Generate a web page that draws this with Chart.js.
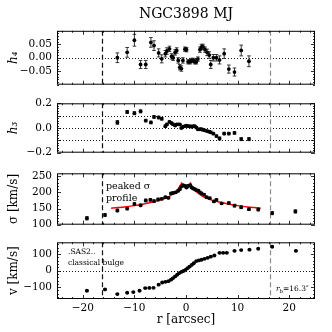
<!DOCTYPE html>
<html>
<head>
<meta charset="utf-8">
<script src="https://cdn.jsdelivr.net/npm/chart.js@4.4.0/dist/chart.umd.min.js"></script>
<style>
  html, body { margin: 0; padding: 0; background: #fff; }
  #wrap { position: relative; width: 332px; height: 332px; overflow: hidden; }
  canvas { position: absolute; left: 0; }
</style>
</head>
<body>
<div id="wrap">
  <canvas id="pH4" width="332" height="96" style="top:0px"></canvas>
  <canvas id="pH3" width="332" height="72" style="top:92px"></canvas>
  <canvas id="pSig" width="332" height="74" style="top:162px"></canvas>
  <canvas id="pVel" width="332" height="101" style="top:231px"></canvas>
</div>
<script>
// radii of the Gauss-Hermite bins (arcsec)
const radiusH = [-13.3, -11.4, -10.0, -8.8, -7.8, -6.8, -6.2, -5.3, -4.7, -4.0, -3.7, -3.2, -2.8, -2.5, -2.1, -1.8, -1.5, -1.2, -0.9, -0.6, -0.2, 0.1, 0.4, 0.8, 1.1, 1.4, 1.7, 2.0, 2.3, 2.7, 3.0, 3.3, 3.7, 4.1, 4.5, 4.8, 5.3, 5.9, 6.5, 7.4, 8.3, 9.4, 10.7, 12.2];
const h4Vals = [0.000, 0.020, 0.065, -0.025, -0.025, 0.057, 0.045, 0.018, -0.004, 0.015, 0.025, 0.033, 0.005, 0.000, 0.020, 0.027, -0.010, -0.035, -0.040, -0.010, 0.032, 0.030, -0.015, -0.015, -0.010, -0.010, -0.015, -0.015, -0.005, 0.030, 0.040, 0.040, 0.030, 0.020, 0.010, -0.025, 0.000, 0.000, -0.008, 0.015, -0.042, -0.053, 0.027, -0.013];
const h4Errs = [0.018, 0.018, 0.022, 0.015, 0.015, 0.018, 0.018, 0.015, 0.015, 0.012, 0.012, 0.010, 0.010, 0.010, 0.010, 0.010, 0.010, 0.010, 0.010, 0.010, 0.008, 0.008, 0.008, 0.008, 0.008, 0.008, 0.008, 0.008, 0.008, 0.010, 0.010, 0.010, 0.010, 0.012, 0.012, 0.015, 0.012, 0.012, 0.015, 0.018, 0.015, 0.015, 0.020, 0.020];
const h3Vals = [0.045, 0.130, 0.120, 0.135, 0.060, 0.045, 0.090, 0.085, 0.075, 0.015, 0.030, 0.050, 0.040, 0.030, 0.020, 0.030, 0.030, 0.030, 0.000, 0.010, 0.015, 0.020, 0.015, 0.015, 0.010, 0.015, 0.015, 0.005, -0.010, -0.010, -0.010, -0.015, -0.020, -0.025, -0.030, -0.035, -0.045, -0.065, -0.085, -0.045, -0.045, -0.040, -0.090, -0.090];
const h3Errs = [0.015, 0.012, 0.012, 0.012, 0.010, 0.010, 0.010, 0.010, 0.010, 0.010, 0.008, 0.008, 0.008, 0.008, 0.006, 0.006, 0.006, 0.006, 0.006, 0.006, 0.006, 0.006, 0.006, 0.006, 0.006, 0.006, 0.006, 0.006, 0.006, 0.006, 0.008, 0.008, 0.008, 0.008, 0.008, 0.010, 0.010, 0.010, 0.012, 0.010, 0.010, 0.010, 0.012, 0.012];

// velocity dispersion
const radiusSigma = [-19.2, -15.7, -13.3, -11.4, -10.0, -8.8, -7.8, -6.9, -6.2, -5.4, -4.7, -4.0, -3.4, -2.9, -2.5, -2.0, -1.5, -1.2, -0.9, -0.6, -0.2, 0.1, 0.4, 0.8, 1.1, 1.4, 1.7, 2.0, 2.4, 2.7, 3.0, 3.5, 4.0, 4.6, 5.4, 5.9, 6.9, 8.3, 9.4, 10.7, 12.2, 14.0, 16.7, 21.2];
const sigmaVals = [120, 130, 144, 150, 164, 160, 175, 177, 173, 178, 180, 185, 183, 197, 198, 200, 205, 210, 218, 222, 220, 215, 220, 222, 215, 212, 210, 207, 205, 200, 197, 193, 185, 182, 172, 177, 166, 167, 159, 154, 148, 147, 136, 141];
const sigmaErrs = [5, 4, 4, 4, 4, 4, 4, 4, 4, 4, 3, 3, 3, 3, 3, 3, 3, 3, 3, 3, 3, 3, 3, 3, 3, 3, 3, 3, 3, 3, 3, 3, 3, 3, 3, 3, 3, 4, 4, 4, 4, 4, 5, 5];
// peaked sigma fit (same on both sides)
const fitRadius = [0.8, 1.0, 1.5, 2, 3, 4, 5, 6, 8, 10, 12, 14.5];
const fitSigma = [231, 224, 211, 202, 190, 182, 176, 172, 165, 159, 155, 151];

// rotation velocity
const radiusVel = [-19.2, -15.7, -13.3, -11.4, -10.2, -9.0, -7.9, -7.1, -6.3, -5.3, -4.6, -4.0, -3.4, -2.9, -2.5, -2.1, -1.7, -1.3, -0.9, -0.5, -0.1, 0.3, 0.7, 1.1, 1.5, 2.0, 2.5, 3.0, 3.6, 4.2, 4.8, 5.5, 6.5, 7.2, 7.9, 9.4, 10.7, 12.3, 14.0, 16.7, 21.3];
const velVals = [-122, -114, -142, -134, -130, -122, -106, -105, -104, -85, -72, -68, -64, -55, -45, -35, -25, -15, -8, -2, 5, 15, 25, 35, 45, 58, 62, 66, 72, 78, 85, 92, 108, 108, 108, 120, 125, 127, 133, 145, 120];
const velErrs = [4, 4, 3, 3, 3, 3, 3, 3, 3, 3, 3, 3, 3, 3, 3, 3, 3, 3, 3, 3, 3, 3, 3, 3, 3, 3, 3, 3, 3, 3, 3, 3, 3, 3, 3, 3, 3, 3, 3, 4, 4];

const breakRadius = 16.3;
const rTicks = [-20, -10, 0, 10, 20];
const h4Ticks = [-0.05, 0, 0.05];
const h3Ticks = [-0.2, -0.1, 0, 0.1, 0.2];
const sigmaTicks = [100, 150, 200, 250];
const velTicks = [-100, 0, 100];

const SERIF = "'DejaVu Serif', 'Liberation Serif', serif";

const pts = (xs, ys) => xs.map((x, i) => ({ x: x, y: ys[i] }));
const minus = s => String(s).replace('-', '\u2212');

const panelDecor = {
    id: 'panelDecor',
    beforeDatasetsDraw(chart, args, opts) {
        const { ctx, chartArea: a, scales: { x, y } } = chart;
        ctx.save();
        ctx.beginPath();
        ctx.rect(a.left, a.top, a.right - a.left, a.bottom - a.top);
        ctx.clip();
        // dotted reference lines
        ctx.strokeStyle = '#000';
        ctx.lineWidth = 0.9;
        ctx.setLineDash([1, 2]);
        (opts.hLines || []).forEach(v => {
            const py = Math.round(y.getPixelForValue(v)) + 0.5;
            ctx.beginPath(); ctx.moveTo(a.left, py); ctx.lineTo(a.right, py); ctx.stroke();
        });
        // dashed bulge radius
        ctx.lineWidth = 1.2;
        ctx.setLineDash([5, 3]);
        [[-breakRadius, '#111'], [breakRadius, '#8a8a8a']].forEach(([v, c]) => {
            const px = Math.round(x.getPixelForValue(v)) + 0.5;
            ctx.strokeStyle = c;
            ctx.beginPath(); ctx.moveTo(px, a.top); ctx.lineTo(px, a.bottom); ctx.stroke();
        });
        ctx.setLineDash([]);
        // error bars
        ctx.strokeStyle = '#222';
        ctx.lineWidth = 0.9;
        chart.data.datasets.forEach((ds, i) => {
            if (!ds.errors) return;
            chart.getDatasetMeta(i).data.forEach((el, j) => {
                const v = ds.data[j].y, e = ds.errors[j];
                const y1 = y.getPixelForValue(v - e), y2 = y.getPixelForValue(v + e);
                const px = el.x;
                ctx.beginPath();
                ctx.moveTo(px, y1); ctx.lineTo(px, y2);
                ctx.moveTo(px - 1.8, y1); ctx.lineTo(px + 1.8, y1);
                ctx.moveTo(px - 1.8, y2); ctx.lineTo(px + 1.8, y2);
                ctx.stroke();
            });
        });
        ctx.restore();
    },
    afterDraw(chart, args, opts) {
        const { ctx, chartArea: a, scales: { x, y } } = chart;
        ctx.save();
        ctx.strokeStyle = '#000';
        ctx.lineWidth = 1;
        ctx.strokeRect(a.left + 0.5, a.top + 0.5, a.right - a.left - 1, a.bottom - a.top - 1);
        // inward ticks on all sides
        const tick = (px, horiz, len) => {
            ctx.beginPath();
            if (horiz) {
                ctx.moveTo(px, a.top); ctx.lineTo(px, a.top + len);
                ctx.moveTo(px, a.bottom); ctx.lineTo(px, a.bottom - len);
            } else {
                ctx.moveTo(a.left, px); ctx.lineTo(a.left + len, px);
                ctx.moveTo(a.right, px); ctx.lineTo(a.right - len, px);
            }
            ctx.stroke();
        };
        ctx.lineWidth = 0.8;
        for (let v = -24; v <= 24; v += 2) tick(Math.round(x.getPixelForValue(v)) + 0.5, true, v % 10 === 0 ? 4 : 2);
        const step = opts.minorY;
        for (let k = Math.ceil(y.min / step - 1e-6); k * step <= y.max + 1e-9; k++) {
            const v = k * step;
            const major = opts.yTicks.some(t => Math.abs(t - v) < step / 10);
            tick(Math.round(y.getPixelForValue(v)) + 0.5, false, major ? 4 : 2);
        }
        // annotations
        (opts.texts || []).forEach(t => {
            let cx = a.left + t.dx;
            const cy = a.top + t.dy;
            ctx.fillStyle = '#000';
            ctx.textBaseline = 'alphabetic';
            ctx.textAlign = 'left';
            t.parts.forEach(p => {
                const size = p.sub ? t.size * 0.7 : t.size;
                ctx.font = (p.italic ? 'italic ' : '') + size + 'px ' + SERIF;
                ctx.fillText(p.s, cx, cy + (p.sub ? 2 : 0));
                cx += ctx.measureText(p.s).width;
            });
        });
        ctx.restore();
    }
};

function makePanel(id, cfg) {
    const datasets = [{
        data: pts(cfg.xs, cfg.ys),
        errors: cfg.errs,
        backgroundColor: '#000',
        borderWidth: 0,
        pointRadius: 1.9,
        pointHoverRadius: 1.9
    }].concat(cfg.extra || []);
    return new Chart(document.getElementById(id), {
        type: 'scatter',
        data: { datasets: datasets },
        options: {
            responsive: false,
            animation: false,
            events: [],
            layout: { padding: { left: 0, right: 17, top: cfg.padTop, bottom: cfg.padBottom } },
            plugins: {
                legend: { display: false },
                tooltip: { enabled: false },
                title: cfg.title ? {
                    display: true,
                    text: cfg.title,
                    fullSize: false,
                    color: '#000',
                    font: { family: SERIF, size: 14, weight: 'normal' },
                    padding: { top: 6, bottom: 8 }
                } : { display: false },
                panelDecor: { hLines: cfg.hLines, minorY: cfg.minorY, yTicks: cfg.yTicks, texts: cfg.texts }
            },
            scales: {
                x: {
                    type: 'linear',
                    min: -25,
                    max: 25,
                    display: !!cfg.showX,
                    afterFit(s) { s.height = cfg.showX ? 33 : 0; },
                    afterBuildTicks(s) { s.ticks = rTicks.map(v => ({ value: v })); },
                    grid: { display: false, drawTicks: false },
                    border: { display: false },
                    ticks: { padding: 3, maxRotation: 0, color: '#000', font: { family: SERIF, size: 10.5 }, callback: v => minus(v) },
                    title: { display: true, text: 'r [arcsec]', color: '#000', font: { family: SERIF, size: 12 }, padding: { top: 0, bottom: 5 } }
                },
                y: {
                    min: cfg.yMin,
                    max: cfg.yMax,
                    afterFit(s) { s.width = 57; },
                    afterBuildTicks(s) { s.ticks = cfg.yTicks.map(v => ({ value: v })); },
                    grid: { display: false, drawTicks: false },
                    border: { display: false },
                    ticks: { padding: 5, color: '#000', font: { family: SERIF, size: 10.5 }, callback: cfg.fmt },
                    title: { display: true, text: cfg.yTitle, color: '#000', font: { family: SERIF, size: 12, style: cfg.yItalic ? 'italic' : 'normal' }, padding: { top: 7, bottom: 0 } }
                }
            }
        },
        plugins: [panelDecor]
    });
}

makePanel('pH4', {
    xs: radiusH, ys: h4Vals, errs: h4Errs,
    yMin: -0.1, yMax: 0.1, yTicks: h4Ticks, minorY: 0.01,
    fmt: v => minus(v.toFixed(2)), yTitle: 'h\u2084', yItalic: true,
    hLines: [0], title: 'NGC3898 MJ', padTop: 0, padBottom: 8
});

makePanel('pH3', {
    xs: radiusH, ys: h3Vals, errs: h3Errs,
    yMin: -0.2, yMax: 0.2, yTicks: h3Ticks, minorY: 0.02,
    fmt: v => minus(v.toFixed(1)), yTitle: 'h\u2083', yItalic: true,
    hLines: [-0.1, 0, 0.1], padTop: 8, padBottom: 8
});

const fitStyle = { showLine: true, borderColor: '#f00', borderWidth: 1.5, pointRadius: 0, tension: 0.3, fill: false };
makePanel('pSig', {
    xs: radiusSigma, ys: sigmaVals, errs: sigmaErrs,
    yMin: 100, yMax: 259, yTicks: sigmaTicks, minorY: 10,
    fmt: v => String(v), yTitle: '\u03c3 [km/s]',
    hLines: [], padTop: 8, padBottom: 8,
    extra: [
        Object.assign({ data: pts(fitRadius.map(r => -r), fitSigma) }, fitStyle),
        Object.assign({ data: pts(fitRadius, fitSigma) }, fitStyle)
    ],
    texts: [
        { dx: 49, dy: 16, size: 9.5, parts: [{ s: 'peaked \u03c3' }] },
        { dx: 49, dy: 28, size: 9.5, parts: [{ s: 'profile' }] }
    ]
});

makePanel('pVel', {
    xs: radiusVel, ys: velVals, errs: velErrs,
    yMin: -172, yMax: 172, yTicks: velTicks, minorY: 20,
    fmt: v => minus(v), yTitle: 'v [km/s]',
    hLines: [0], padTop: 8, padBottom: 0, showX: true,
    texts: [
        { dx: 11, dy: 12, size: 7.5, parts: [{ s: '.SAS2..' }] },
        { dx: 11, dy: 23, size: 7.5, parts: [{ s: 'classical bulge' }] },
        { dx: 219, dy: 49, size: 7.5, parts: [{ s: 'r', italic: true }, { s: 'b', sub: true }, { s: '=16.3\u2033' }] }
    ]
});
</script>
</body>
</html>
